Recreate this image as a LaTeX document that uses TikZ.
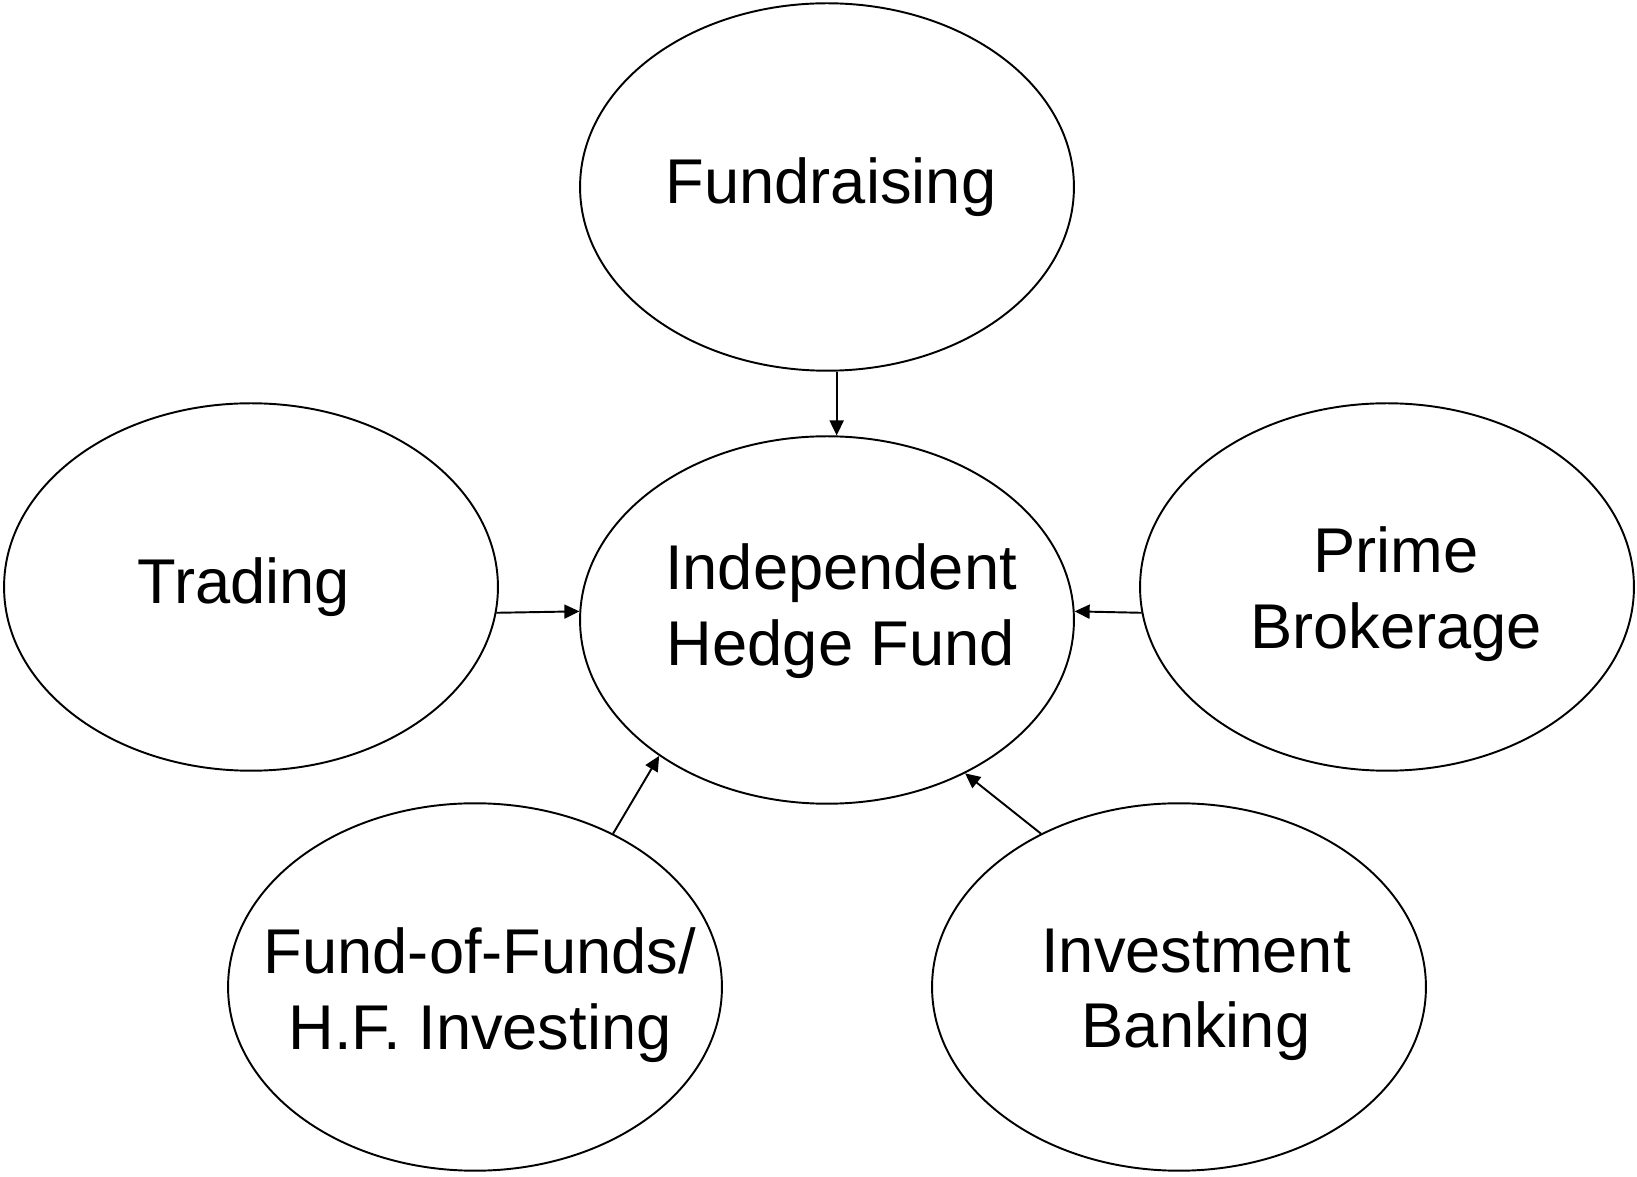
\documentclass[tikz,border=0pt]{standalone}
\usepackage{fontspec}
\setmainfont{Liberation Sans}
\usetikzlibrary{arrows.meta, shapes.geometric}

\begin{document}
\begin{tikzpicture}[
  x=0.02cm, y=0.02cm,
  every node/.style={font=\fontsize{36}{43}\selectfont},
  bubble/.style={ellipse, draw, line width=1.1pt, minimum width=9.88cm, minimum height=7.35cm, inner sep=0pt},
  caption/.style={inner sep=0pt, align=center},
  conn/.style={line width=1.1pt, -{Triangle[length=0.3cm, width=0.28cm]}},
]
\useasboundingbox (0, 0) rectangle (1637, 1177);

% ellipses
\node[bubble] (hub) at (827, 557) {};
\node[bubble] (fund) at (827, 990) {};
\node[bubble] (trad) at (251, 590) {};
\node[bubble] (prime) at (1387, 590) {};
\node[bubble] (fof) at (475, 190) {};
\node[bubble] (ib) at (1179, 190) {};

% texts inside them
\node[caption] (hubtext) at (841, 566) {Independent\\Hedge Fund};
\node[caption] (fundtext) at (831, 990) {Fundraising};
\node[caption] (tradtext) at (244, 590) {Trading};
\node[caption] (primetext) at (1396, 583) {Prime\\Brokerage};
\node[caption] (foftext) at (480, 182) {Fund-of-Funds/\\H.F. Investing};
\node[caption] (ibtext) at (1196, 182) {Investment\\Banking};

\draw[conn] (fund.-87) -- (hub.87);
\draw[conn] (trad.-6) -- (hub.178);
\draw[conn] (prime.186) -- (hub.2);
\draw[conn] (fof.48) -- (hub.219);
\draw[conn] (ib.132) -- (hub.-48);
\end{tikzpicture}
\end{document}
